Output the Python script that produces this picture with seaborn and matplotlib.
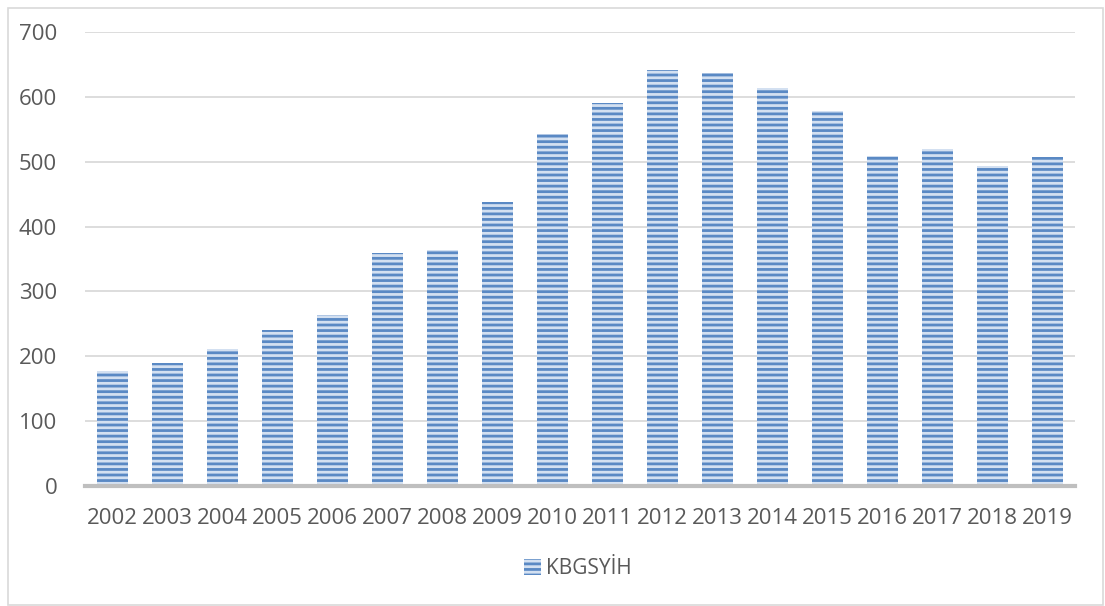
import matplotlib
matplotlib.use("Agg")
import matplotlib.pyplot as plt
import seaborn as sns
import pandas as pd
from matplotlib.patches import Rectangle, Patch

# veriler
years = ["2002", "2003", "2004", "2005", "2006", "2007", "2008", "2009", "2010",
         "2011", "2012", "2013", "2014", "2015", "2016", "2017", "2018", "2019"]
values = [178, 189, 211, 241, 263, 359, 364, 438, 543,
          591, 641, 637, 613, 578, 509, 519, 493, 507]
series_name = "KBGSYİH"
y_ticks = [0, 100, 200, 300, 400, 500, 600, 700]

df = pd.DataFrame({"yil": years, "deger": values})

sns.set_style("white")
plt.rcParams["font.family"] = ["Open Sans", "DejaVu Sans"]
plt.rcParams["hatch.linewidth"] = 2.0
plt.rcParams["hatch.color"] = "#5a89c4"

fig = plt.figure(figsize=(11.05, 6.06), dpi=100)
ax = fig.add_axes([85 / 1105, 1 - 486 / 606, 990 / 1105, 454 / 606])

sns.barplot(data=df, x="yil", y="deger", ax=ax, color="#d3e0f1",
            width=0.58, saturation=1)
for bar in ax.patches:
    bar.set_hatch("---")
    bar.set_edgecolor("#5a89c4")
    bar.set_linewidth(0)

ax.set_ylim(0, 700)
ax.set_yticks(y_ticks)
ax.set_xlim(-0.5, len(years) - 0.5)
ax.set_xlabel("")
ax.set_ylabel("")
ax.yaxis.grid(True, color="#dadada", linewidth=1.3)
ax.set_axisbelow(True)
for s in ["top", "right", "left"]:
    ax.spines[s].set_visible(False)
ax.spines["bottom"].set_color("#bfbfbf")
ax.spines["bottom"].set_linewidth(3)
ax.tick_params(axis="both", length=0, labelsize=16, labelcolor="#595959")
ax.tick_params(axis="y", pad=20)
ax.tick_params(axis="x", pad=16)

# dış çerçeve
fig.patches.append(Rectangle((8 / 1105, 0.002), 1095 / 1105, 1 - 8 / 606 - 0.002,
                             transform=fig.transFigure, fill=False,
                             edgecolor="#d9d9d9", linewidth=1.2))

handle = Patch(facecolor="#d3e0f1", edgecolor="#5a89c4", hatch="---", linewidth=0)
fig.legend([handle], [series_name], loc="center", bbox_to_anchor=(578 / 1105, 1 - 569 / 606),
           frameon=False, fontsize=15, labelcolor="#595959", handlelength=0.8,
           handleheight=0.8, handletextpad=0.25)

fig.savefig("out.png", dpi=100)
